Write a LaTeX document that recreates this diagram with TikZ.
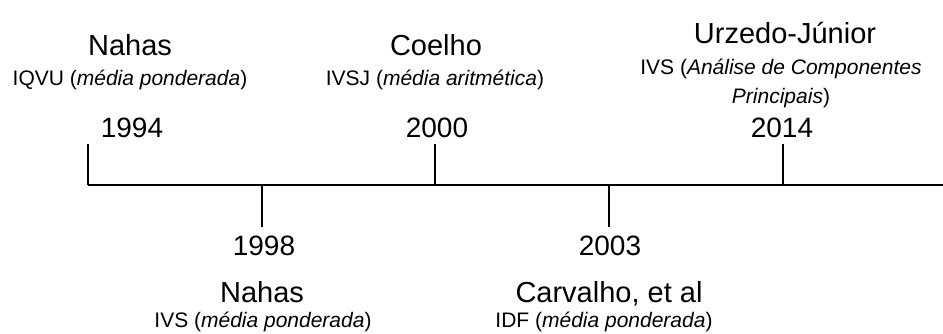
\documentclass[tikz,border=0pt]{standalone}
\usepackage{fontspec}
\setmainfont{Liberation Sans}
\usepackage{tikz}
\usetikzlibrary{positioning}
\tikzstyle{author} = [font=\fontsize{29}{32}\selectfont, inner sep=0pt, anchor=base]
\tikzstyle{year} = [font=\fontsize{28}{32}\selectfont, inner sep=0pt, anchor=base]
\tikzstyle{method} = [font=\fontsize{21}{29}\selectfont, inner sep=0pt, anchor=base, align=center]
\tikzstyle{axis} = [line width=2pt]

\begin{document}
\begin{tikzpicture}[x=1pt, y=-1pt]
			\useasboundingbox (0,0) rectangle (943,333);
			% linha do tempo
			\coordinate (start) at (88,185);
			\coordinate (end) at (943,185);
			\draw[axis] (start) -- (end);
			% marcas
			\coordinate (a94) at (88,185);   \coordinate (b94) at (88,144);
			\coordinate (a98) at (262,185);  \coordinate (b98) at (262,227);
			\coordinate (a00) at (435,185);  \coordinate (b00) at (435,144);
			\coordinate (a03) at (609,185);  \coordinate (b03) at (609,227);
			\coordinate (a14) at (783,185);  \coordinate (b14) at (783,144);
			\draw[axis] (a94) -- (b94);
			\draw[axis] (a98) -- (b98);
			\draw[axis] (a00) -- (b00);
			\draw[axis] (a03) -- (b03);
			\draw[axis] (a14) -- (b14);
			% acima
			\node[year] (y94) at (132,137) {1994};
			\node[author] (n94) at (130,55) {Nahas};
			\node[method] (m94) at (130,85) {IQVU (\textit{média ponderada})};
			\node[year] (y00) at (437,137) {2000};
			\node[author] (n00) at (436,55) {Coelho};
			\node[method] (m00) at (435,85) {IVSJ (\textit{média aritmética})};
			\node[year] (y14) at (782,137) {2014};
			\node[author] (n14) at (785,43) {Urzedo-Júnior};
			\node[method] (m14) at (781,103) {IVS (\textit{Análise de Componentes}\\\textit{Principais})};
			% abaixo
			\node[year] (y98) at (264,255) {1998};
			\node[author] (n98) at (262,302) {Nahas};
			\node[method] (m98) at (263,327) {IVS (\textit{média ponderada})};
			\node[year] (y03) at (610,255) {2003};
			\node[author] (n03) at (609,302) {Carvalho, et al};
			\node[method] (m03) at (604,327) {IDF (\textit{média ponderada})};
		\end{tikzpicture}
\end{document}
